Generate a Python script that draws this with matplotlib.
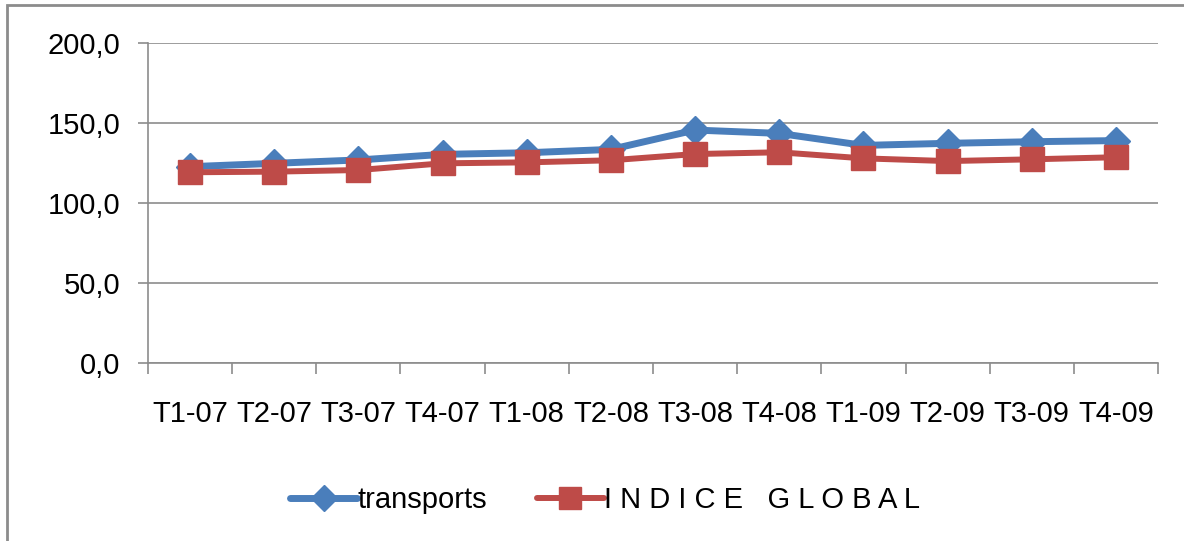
import numpy as np
import matplotlib.pyplot as plt
from matplotlib.patches import Rectangle

# Trimestres
trimestres = ['T1-07', 'T2-07', 'T3-07', 'T4-07', 'T1-08', 'T2-08',
              'T3-08', 'T4-08', 'T1-09', 'T2-09', 'T3-09', 'T4-09']

# Indices
transports = [122.7, 124.8, 126.9, 130.4, 131.4, 133.5,
              145.6, 143.5, 136.0, 137.3, 138.3, 139.0]
indice_global = [119.2, 119.6, 120.6, 124.8, 125.4, 126.7,
                 130.6, 131.7, 127.9, 126.2, 127.3, 128.6]

bleu = '#4A7EBB'
rouge = '#BE4B48'
gris = '#8C8C8C'

plt.rcParams['font.family'] = ['Liberation Sans', 'DejaVu Sans']

fig = plt.figure(figsize=(11.84, 5.41), dpi=100)
ax = fig.add_axes([148/1184, 1-363/541, 1010/1184, 320/541])

x = np.arange(len(trimestres))
ax.plot(x, transports, '-D', color=bleu, lw=5, ms=14, solid_capstyle='round',
        label='transports')
ax.plot(x, indice_global, '-s', color=rouge, lw=4.3, ms=17, solid_capstyle='round',
        label='I N D I C E   G L O B A L')

ax.set_xlim(-0.5, len(trimestres) - 0.5)
ax.set_ylim(0, 200)
yt = np.arange(0, 201, 50)
ax.set_yticks(yt, labels=[('%.1f' % v).replace('.', ',') for v in yt])
ax.grid(axis='y', color=gris, lw=1.2)
ax.set_axisbelow(True)

ax.set_xticks(np.arange(-0.5, len(trimestres)), labels=[])
ax.set_xticks(x, labels=trimestres, minor=True)
ax.tick_params(axis='x', which='major', length=8, width=1.2, color=gris, direction='out')
ax.tick_params(axis='x', which='minor', length=0, pad=27, labelsize=21)
ax.tick_params(axis='y', length=7, width=1.2, color=gris, pad=13, labelsize=21)

for s in ['top', 'right']:
    ax.spines[s].set_visible(False)
for s in ['left', 'bottom']:
    ax.spines[s].set_color(gris)
    ax.spines[s].set_linewidth(1.2)

leg = fig.legend(loc='center', bbox_to_anchor=(0.511, 1-500/541), ncol=2, frameon=False,
                 fontsize=21, handlelength=2.3, handletextpad=0.0, columnspacing=1.7,
                 markerscale=0.95)

# cadre du graphique (coupe a droite et en bas)
fig.patches.append(Rectangle((7/1184, -0.1), 1.2, 1 - 5/541 + 0.1, transform=fig.transFigure,
                             fill=False, edgecolor=gris, lw=2, clip_on=False))

fig.savefig('out.png', dpi=100)
